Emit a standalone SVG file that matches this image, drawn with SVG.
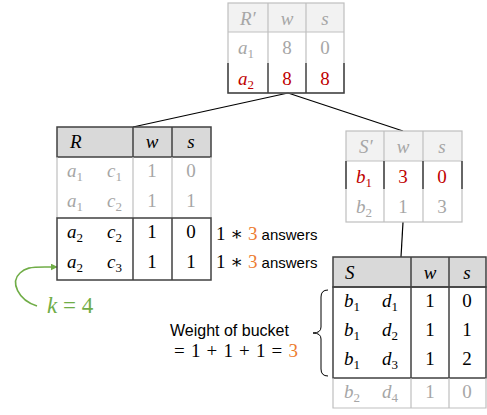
<svg xmlns="http://www.w3.org/2000/svg" width="487" height="415" viewBox="0 0 487 415">
<style>
.m{font-family:"Liberation Serif","DejaVu Serif",serif;font-size:19px}
.i{font-style:italic}
.c{text-anchor:middle}
.sub{font-size:13px;font-style:normal}
.t{font-family:"Liberation Sans",Arial,sans-serif;font-size:16px}
.a{font-family:"Liberation Sans",Arial,sans-serif;font-size:15px}
.g{fill:#a6a6a6}
.k{fill:#000}
.r{fill:#c00000}
.o{fill:#ed7d31}
.gr{fill:#70ad47}
.hd{fill:#d9d9d9}
.hl{fill:#f2f2f2}
.bd{stroke:#404040;stroke-width:1.5;fill:none}
.bl{stroke:#bfbfbf;stroke-width:1.2;fill:none}
.ln{stroke:#000;stroke-width:1.2;fill:none}
</style>
<defs>
<marker id="ah" viewBox="0 0 10 10" refX="9" refY="5" markerWidth="7" markerHeight="7" orient="auto" markerUnits="userSpaceOnUse">
<path d="M0,0 L10,5 L0,10 z" fill="#70ad47"/>
</marker>
</defs>

<g id="connectors">
<line class="ln" x1="288" y1="93" x2="133" y2="127"/>
<line class="ln" x1="288" y1="93" x2="403" y2="131"/>
<line class="ln" x1="403" y1="222" x2="401" y2="257"/>
<path d="M37,306 C18,300 10,282 20,273 C25,268 30,267 45,267 L57,267" stroke="#70ad47" stroke-width="1.6" fill="none" marker-end="url(#ah)"/>
<path d="M328,290 Q321,290 321,297 L321,327 Q321,333 313,333 Q321,333 321,339 L321,369 Q321,376 328,376" stroke="#000" stroke-width="1" fill="none"/>
</g>

<g id="table-Rprime">
<rect class="hl" x="228" y="3" width="116" height="29"/>
<rect class="bl" x="228" y="3" width="116" height="90"/>
<line class="bl" x1="228" y1="32" x2="344" y2="32"/>
<line class="bl" x1="268" y1="3" x2="268" y2="63"/>
<line class="bl" x1="306" y1="3" x2="306" y2="63"/>
<path class="bd" d="M228,63 L228,93 L344,93 L344,63"/>
<line class="bd" x1="268" y1="63" x2="268" y2="93"/>
<line class="bd" x1="306" y1="63" x2="306" y2="93"/>
<text class="m i g" x="240" y="25">R′</text>
<text class="m i g c" x="287" y="25">w</text>
<text class="m i g c" x="325" y="25">s</text>
<text class="m i g" x="238" y="54">a<tspan class="sub" dy="4">1</tspan></text>
<text class="m g c" x="287" y="54">8</text>
<text class="m g c" x="325" y="54">0</text>
<text class="m i r" x="238" y="85">a<tspan class="sub" dy="4">2</tspan></text>
<text class="m r c" x="287" y="85">8</text>
<text class="m r c" x="325" y="85">8</text>
</g>

<g id="table-R">
<rect class="hd" x="57" y="127" width="154" height="30"/>
<rect class="bd" x="57" y="127" width="154" height="30"/>
<line class="bd" x1="133" y1="127" x2="133" y2="157"/>
<line class="bd" x1="172" y1="127" x2="172" y2="157"/>
<path class="bl" d="M57,157 L57,218 M211,157 L211,218 M133,157 L133,218 M172,157 L172,218"/>
<rect class="bd" x="57" y="218" width="154" height="62"/>
<line class="bd" x1="133" y1="218" x2="133" y2="280"/>
<line class="bd" x1="172" y1="218" x2="172" y2="280"/>
<text class="m i k" x="70" y="148">R</text>
<text class="m i k c" x="152" y="148">w</text>
<text class="m i k c" x="191" y="148">s</text>
<text class="m i g" x="67" y="177">a<tspan class="sub" dy="4">1</tspan></text>
<text class="m i g" x="107" y="177">c<tspan class="sub" dy="4">1</tspan></text>
<text class="m g c" x="152" y="177">1</text>
<text class="m g c" x="191" y="177">0</text>
<text class="m i g" x="67" y="207">a<tspan class="sub" dy="4">1</tspan></text>
<text class="m i g" x="107" y="207">c<tspan class="sub" dy="4">2</tspan></text>
<text class="m g c" x="152" y="207">1</text>
<text class="m g c" x="191" y="207">1</text>
<text class="m i k" x="67" y="238">a<tspan class="sub" dy="4">2</tspan></text>
<text class="m i k" x="107" y="238">c<tspan class="sub" dy="4">2</tspan></text>
<text class="m k c" x="152" y="238">1</text>
<text class="m k c" x="191" y="238">0</text>
<text class="m i k" x="67" y="268">a<tspan class="sub" dy="4">2</tspan></text>
<text class="m i k" x="107" y="268">c<tspan class="sub" dy="4">3</tspan></text>
<text class="m k c" x="152" y="268">1</text>
<text class="m k c" x="191" y="268">1</text>
</g>

<g id="label-answers">
<text class="a k" x="216" y="240"><tspan class="m">1 ∗ <tspan class="o">3</tspan></tspan> answers</text>
<text class="a k" x="216" y="268"><tspan class="m">1 ∗ <tspan class="o">3</tspan></tspan> answers</text>
</g>

<g id="label-k">
<text class="m gr" x="47" y="313" style="font-size:23px"><tspan class="i">k</tspan> = 4</text>
</g>

<g id="table-Sprime">
<rect class="hl" x="346" y="131" width="116" height="30"/>
<rect class="bl" x="346" y="131" width="116" height="91"/>
<line class="bl" x1="346" y1="161" x2="462" y2="161"/>
<line class="bl" x1="384" y1="131" x2="384" y2="222"/>
<line class="bl" x1="423" y1="131" x2="423" y2="222"/>
<path class="bd" d="M346,161 L346,189 M384,161 L384,189 M423,161 L423,189 M462,161 L462,189"/>
<text class="m i g" x="359" y="153">S′</text>
<text class="m i g c" x="403" y="153">w</text>
<text class="m i g c" x="442" y="153">s</text>
<text class="m i r" x="356" y="183">b<tspan class="sub" dy="4">1</tspan></text>
<text class="m r c" x="403" y="183">3</text>
<text class="m r c" x="442" y="183">0</text>
<text class="m i g" x="356" y="213">b<tspan class="sub" dy="4">2</tspan></text>
<text class="m g c" x="403" y="213">1</text>
<text class="m g c" x="442" y="213">3</text>
</g>

<g id="table-S">
<rect class="hd" x="333" y="257" width="153" height="30"/>
<rect class="bd" x="333" y="257" width="153" height="30"/>
<line class="bd" x1="411" y1="257" x2="411" y2="287"/>
<line class="bd" x1="449" y1="257" x2="449" y2="287"/>
<rect class="bd" x="333" y="287" width="153" height="91"/>
<line class="bd" x1="411" y1="287" x2="411" y2="378"/>
<line class="bd" x1="449" y1="287" x2="449" y2="378"/>
<path class="bl" d="M333,378 L333,408 L486,408 L486,378 M411,378 L411,408 M449,378 L449,408"/>
<text class="m i k" x="345" y="279">S</text>
<text class="m i k c" x="430" y="279">w</text>
<text class="m i k c" x="467" y="279">s</text>
<text class="m i k" x="344" y="307">b<tspan class="sub" dy="4">1</tspan></text>
<text class="m i k" x="382" y="307">d<tspan class="sub" dy="4">1</tspan></text>
<text class="m k c" x="430" y="307">1</text>
<text class="m k c" x="467" y="307">0</text>
<text class="m i k" x="344" y="336">b<tspan class="sub" dy="4">1</tspan></text>
<text class="m i k" x="382" y="336">d<tspan class="sub" dy="4">2</tspan></text>
<text class="m k c" x="430" y="336">1</text>
<text class="m k c" x="467" y="336">1</text>
<text class="m i k" x="344" y="365">b<tspan class="sub" dy="4">1</tspan></text>
<text class="m i k" x="382" y="365">d<tspan class="sub" dy="4">3</tspan></text>
<text class="m k c" x="430" y="365">1</text>
<text class="m k c" x="467" y="365">2</text>
<text class="m i g" x="344" y="398">b<tspan class="sub" dy="4">2</tspan></text>
<text class="m i g" x="382" y="398">d<tspan class="sub" dy="4">4</tspan></text>
<text class="m g c" x="430" y="398">1</text>
<text class="m g c" x="467" y="398">0</text>
</g>

<g id="label-weight">
<text class="t k" x="170" y="336">Weight of bucket</text>
<text class="m k" x="174" y="357" textLength="124" lengthAdjust="spacing">= 1 + 1 + 1 = <tspan class="o">3</tspan></text>
</g>
</svg>
